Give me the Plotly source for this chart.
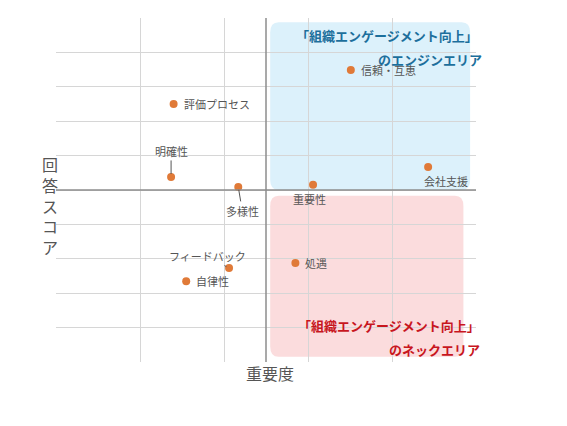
import plotly.graph_objects as go

names = ["信頼・互恵", "評価プロセス", "明確性", "多様性", "重要性", "会社支援", "処遇", "フィードバック", "自律性"]
importance = [3.51, 1.40, 1.37, 2.17, 3.06, 4.43, 2.85, 2.06, 1.55]
score = [8.49, 7.50, 5.38, 5.09, 5.15, 5.67, 2.88, 2.73, 2.35]
# label offsets (pixels) and whether to draw a leader line
offsets = [(8, 0, "left", False), (8, 0, "left", False), (0, -26, "center", True),
           (4, 24, "center", True), (-4, 14, "center", False), (18, 14, "center", False),
           (8, 0, "left", False), (-22, -12, "center", True), (8, 0, "left", False)]

F = "Noto Sans CJK JP"
fig = go.Figure()

def rounded(x0, y0, x1, y1, rx, ry):
    return (f"M{x0+rx},{y0} L{x1-rx},{y0} Q{x1},{y0} {x1},{y0+ry} L{x1},{y1-ry} Q{x1},{y1} {x1-rx},{y1} "
            f"L{x0+rx},{y1} Q{x0},{y1} {x0},{y1-ry} L{x0},{y0+ry} Q{x0},{y0} {x0+rx},{y0} Z")

fig.add_shape(type="path", path=rounded(2.55, 5.0, 4.93, 9.88, 0.1, 0.3),
              fillcolor="#dcf1fb", line_width=0, layer="below")
fig.add_shape(type="path", path=rounded(2.55, 0.15, 4.85, 4.83, 0.1, 0.3),
              fillcolor="#fbdcdd", line_width=0, layer="below")
fig.add_shape(type="line", x0=2.5, x1=2.5, y0=0, y1=10, line=dict(color="#8c8c8c", width=1.5))
fig.add_shape(type="line", x0=0, x1=5, y0=5, y1=5, line=dict(color="#8c8c8c", width=1.5))

fig.add_trace(go.Scatter(x=importance, y=score, mode="markers",
                         marker=dict(color="#e07a38", size=8), hoverinfo="skip"))

for n, x, y, (dx, dy, al, line) in zip(names, importance, score, offsets):
    if line:
        fig.add_annotation(x=x, y=y, ax=dx, ay=dy, text=n, showarrow=True, arrowhead=0,
                           arrowcolor="#555", arrowwidth=1, standoff=3,
                           font=dict(family=F, size=11, color="#555"))
    else:
        fig.add_annotation(x=x, y=y, xshift=dx, yshift=-dy, text=n, showarrow=False,
                           xanchor=al, font=dict(family=F, size=11, color="#555"))

quad = [("「組織エンゲージメント向上」", 480, 24, "right", "#1c6f9c"),
        ("のエンジンエリア", 430, 48, "center", "#1c6f9c"),
        ("「組織エンゲージメント向上」", 482, 337, "right", "#c8161e"),
        ("のネックエリア", 434, 361, "center", "#c8161e")]
for t, px, py, anc, c in quad:
    fig.add_annotation(xref="paper", yref="paper", x=(px - 56) / 420, y=(362 - py) / 344,
                       text=f"<b>{t}</b>", showarrow=False, xanchor=anc,
                       font=dict(family=F, size=13, color=c))

fig.add_annotation(xref="paper", yref="paper", x=(270 - 56) / 420, y=(362 - 387) / 344,
                   text="重要度", showarrow=False, font=dict(family=F, size=16, color="#555"))
fig.add_annotation(xref="paper", yref="paper", x=(40 - 56) / 420, y=(362 - 205) / 344,
                   text="回<br>答<br>ス<br>コ<br>ア", showarrow=False,
                   font=dict(family=F, size=16, color="#555"))

fig.update_xaxes(range=[0, 5], dtick=1, showticklabels=False, showgrid=True, gridcolor="#d6d6d6",
                 zeroline=False, showline=False)
fig.update_yaxes(range=[0, 10], dtick=1, showticklabels=False, showgrid=True, gridcolor="#d6d6d6",
                 zeroline=False, showline=False)
fig.update_layout(width=567, height=426, margin=dict(l=48, r=99, t=10, b=72),
                  plot_bgcolor="white", paper_bgcolor="white", showlegend=False)
fig.write_html("out.html")
